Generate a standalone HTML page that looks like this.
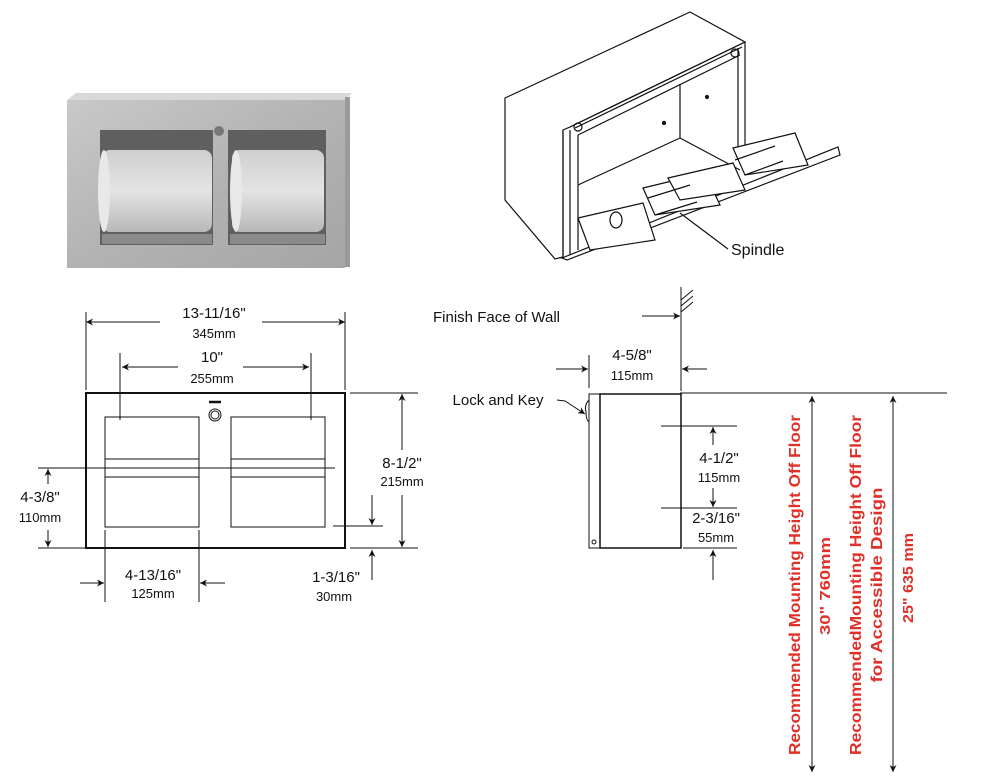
<!DOCTYPE html>
<html><head><meta charset="utf-8"><style>
html,body{margin:0;padding:0;background:#fff}
svg{display:block}
text{font-family:"Liberation Sans",Arial,sans-serif;fill:#111}
</style></head><body>
<svg width="983" height="784" viewBox="0 0 983 784" xmlns="http://www.w3.org/2000/svg">
<defs>
<marker id="a" viewBox="0 0 10 10" refX="10" refY="5" markerWidth="9" markerHeight="7" orient="auto-start-reverse" markerUnits="userSpaceOnUse"><path d="M0,0 L10,5 L0,10 L3,5 z" fill="#111"/></marker>
<linearGradient id="steel" x1="0" y1="0" x2="1" y2="1"><stop offset="0" stop-color="#c9c9c9"/><stop offset="0.5" stop-color="#b3b3b3"/><stop offset="1" stop-color="#a5a5a5"/></linearGradient>
<linearGradient id="roll" x1="0" y1="0" x2="0" y2="1"><stop offset="0" stop-color="#cfcfcf"/><stop offset="0.5" stop-color="#e4e4e4"/><stop offset="1" stop-color="#b8b8b8"/></linearGradient>
</defs>

<!-- Photo -->
<polygon points="67,100 76,93 352,93 345,100" fill="#d8d8d8"/>
<rect x="67" y="100" width="278" height="168" fill="url(#steel)"/>
<rect x="345" y="97" width="5" height="170" fill="#9a9a9a"/>
<rect x="100" y="130" width="113" height="115" fill="#5f5f5f"/>
<rect x="228" y="130" width="98" height="115" fill="#5f5f5f"/>
<rect x="102" y="150" width="110" height="82" rx="8" fill="url(#roll)"/>
<ellipse cx="104" cy="191" rx="6" ry="41" fill="#e8e8e8"/>
<rect x="232" y="150" width="92" height="82" rx="8" fill="url(#roll)"/>
<ellipse cx="236" cy="191" rx="6" ry="41" fill="#e8e8e8"/>
<rect x="102" y="234" width="110" height="10" fill="#8a8a8a"/>
<rect x="230" y="234" width="95" height="10" fill="#8a8a8a"/>
<circle cx="219" cy="131" r="5" fill="#777"/>

<!-- Isometric drawing -->
<g fill="none" stroke="#111" stroke-width="1.2">
<polygon points="505,98 690,12 745,42 570,127 563,130 563,257 555,259 505,200" fill="#fff"/>
<line x1="570" y1="127" x2="745" y2="42"/>
<line x1="563" y1="130" x2="563" y2="257"/>
<line x1="570" y1="130" x2="570" y2="256"/>
<line x1="745" y1="42" x2="745" y2="150"/>
<line x1="738" y1="48" x2="738" y2="150"/>
<line x1="578" y1="135" x2="740" y2="55"/>
<line x1="575" y1="128" x2="742" y2="47"/>
<line x1="578" y1="135" x2="578" y2="250"/>
<line x1="578" y1="185" x2="680" y2="138"/>
<line x1="680" y1="85" x2="680" y2="138"/>
<line x1="680" y1="138" x2="740" y2="170"/>
<circle cx="578" cy="127" r="4"/>
<circle cx="735" cy="53" r="4"/>
<circle cx="664" cy="123" r="1.5" fill="#111"/>
<circle cx="707" cy="97" r="1.5" fill="#111"/>
<polygon points="562,258 838,147 840,155 567,260" fill="#fff"/>
<polygon points="578,218 643,203 655,240 590,250" fill="#fff"/>
<polygon points="643,188 705,173 720,205 655,215" fill="#fff"/>
<polygon points="668,178 733,163 745,190 680,200" fill="#fff"/>
<polygon points="733,148 795,133 808,165 745,175" fill="#fff"/>
<ellipse cx="616" cy="220" rx="6" ry="8"/>
<line x1="648" y1="198" x2="690" y2="185"/>
<line x1="655" y1="215" x2="697" y2="202"/>
<line x1="735" y1="160" x2="775" y2="146"/>
<line x1="745" y1="175" x2="783" y2="161"/>
<polyline points="680,213 720,243 728,249"/>
</g>
<text x="731" y="255" font-size="16">Spindle</text>

<!-- Front view -->
<g fill="none" stroke="#111" stroke-width="1">
<rect x="86" y="393" width="259" height="155" stroke-width="2"/>
<rect x="105" y="417" width="94" height="110"/>
<rect x="231" y="417" width="94" height="110"/>
<line x1="105" y1="459" x2="199" y2="459"/><line x1="105" y1="477" x2="199" y2="477"/>
<line x1="231" y1="459" x2="325" y2="459"/><line x1="231" y1="477" x2="325" y2="477"/>
<line x1="38" y1="468" x2="335" y2="468"/>
<circle cx="215" cy="415" r="6"/><circle cx="215" cy="415" r="4"/>
<line x1="209" y1="402" x2="221" y2="402" stroke-width="2.5"/>
<line x1="86" y1="312" x2="86" y2="390"/><line x1="345" y1="312" x2="345" y2="390"/>
<line x1="160" y1="322" x2="86" y2="322" marker-end="url(#a)"/><line x1="262" y1="322" x2="345" y2="322" marker-end="url(#a)"/>
<line x1="120" y1="353" x2="120" y2="420"/><line x1="311" y1="353" x2="311" y2="420"/>
<line x1="178" y1="367" x2="122" y2="367" marker-end="url(#a)"/><line x1="243" y1="367" x2="309" y2="367" marker-end="url(#a)"/>
<line x1="350" y1="393" x2="418" y2="393"/><line x1="350" y1="548" x2="418" y2="548"/>
<line x1="402" y1="450" x2="402" y2="394" marker-end="url(#a)"/><line x1="402" y1="495" x2="402" y2="547" marker-end="url(#a)"/>
<line x1="333" y1="526" x2="383" y2="526"/>
<line x1="372" y1="495" x2="372" y2="525" marker-end="url(#a)"/>
<line x1="372" y1="580" x2="372" y2="550" marker-end="url(#a)"/>
<line x1="38" y1="548" x2="85" y2="548"/>
<line x1="48" y1="484" x2="48" y2="469" marker-end="url(#a)"/><line x1="48" y1="530" x2="48" y2="547" marker-end="url(#a)"/>
<line x1="105" y1="530" x2="105" y2="602"/><line x1="199" y1="530" x2="199" y2="602"/>
<line x1="80" y1="583" x2="104" y2="583" marker-end="url(#a)"/><line x1="225" y1="583" x2="200" y2="583" marker-end="url(#a)"/>
</g>
<g font-size="15" text-anchor="middle">
<text x="214" y="318">13-11/16"</text><text x="214" y="338" font-size="13">345mm</text>
<text x="212" y="362">10"</text><text x="212" y="383" font-size="13">255mm</text>
<text x="402" y="468">8-1/2"</text><text x="402" y="486" font-size="13">215mm</text>
<text x="336" y="582">1-3/16"</text><text x="334" y="601" font-size="13">30mm</text>
<text x="40" y="502">4-3/8"</text><text x="40" y="522" font-size="13">110mm</text>
<text x="153" y="580">4-13/16"</text><text x="153" y="598" font-size="13">125mm</text>
</g>

<!-- Side view -->
<g fill="none" stroke="#111" stroke-width="1">
<rect x="589" y="394" width="11" height="154"/>
<rect x="600" y="394" width="81" height="154" stroke-width="1.5"/>
<path d="M589,400 q-5,5 -3,12 q0,8 3,10"/>
<circle cx="594" cy="542" r="2"/>
<line x1="681" y1="287" x2="681" y2="391"/>
<line x1="681" y1="300" x2="693" y2="290"/><line x1="681" y1="306" x2="693" y2="296"/><line x1="681" y1="312" x2="693" y2="302"/>
<line x1="642" y1="316" x2="680" y2="316" marker-end="url(#a)"/>
<line x1="589" y1="355" x2="589" y2="388"/>
<line x1="556" y1="369" x2="588" y2="369" marker-end="url(#a)"/><line x1="707" y1="369" x2="682" y2="369" marker-end="url(#a)"/>
<line x1="680" y1="393" x2="947" y2="393"/>
<path d="M557,400 l8,1 l20,13" marker-end="url(#a)"/>
<line x1="661" y1="426" x2="737" y2="426"/><line x1="661" y1="508" x2="737" y2="508"/><line x1="683" y1="548" x2="737" y2="548"/>
<line x1="713" y1="445" x2="713" y2="427" marker-end="url(#a)"/>
<line x1="713" y1="488" x2="713" y2="507" marker-end="url(#a)"/>
<line x1="713" y1="580" x2="713" y2="550" marker-end="url(#a)"/>
<line x1="812" y1="396" x2="812" y2="772" marker-start="url(#a)" marker-end="url(#a)"/>
<line x1="893" y1="396" x2="893" y2="772" marker-start="url(#a)" marker-end="url(#a)"/>
</g>
<g font-size="15" text-anchor="middle">
<text x="560" y="322" text-anchor="end">Finish Face of Wall</text>
<text x="632" y="360">4-5/8"</text><text x="632" y="380" font-size="13">115mm</text>
<text x="498" y="405">Lock and Key</text>
<text x="719" y="463">4-1/2"</text><text x="719" y="482" font-size="13">115mm</text>
<text x="716" y="523">2-3/16"</text><text x="716" y="542" font-size="13">55mm</text>
</g>
<g font-size="16" font-weight="bold" text-anchor="middle">
<text transform="translate(800,585) rotate(-90)" style="fill:#e0302a" textLength="340" lengthAdjust="spacingAndGlyphs">Recommended Mounting Height Off Floor</text>
<text transform="translate(830,586) rotate(-90)" font-size="15" style="fill:#e0302a" textLength="98" lengthAdjust="spacingAndGlyphs">30"   760mm</text>
<text transform="translate(861,585) rotate(-90)" style="fill:#e0302a" textLength="340" lengthAdjust="spacingAndGlyphs">RecommendedMounting Height Off Floor</text>
<text transform="translate(882,585) rotate(-90)" style="fill:#e0302a" textLength="195" lengthAdjust="spacingAndGlyphs">for Accessible Design</text>
<text transform="translate(913,578) rotate(-90)" font-size="15" style="fill:#e0302a" textLength="90" lengthAdjust="spacingAndGlyphs">25"   635 mm</text>
</g>
</svg>
</body></html>
